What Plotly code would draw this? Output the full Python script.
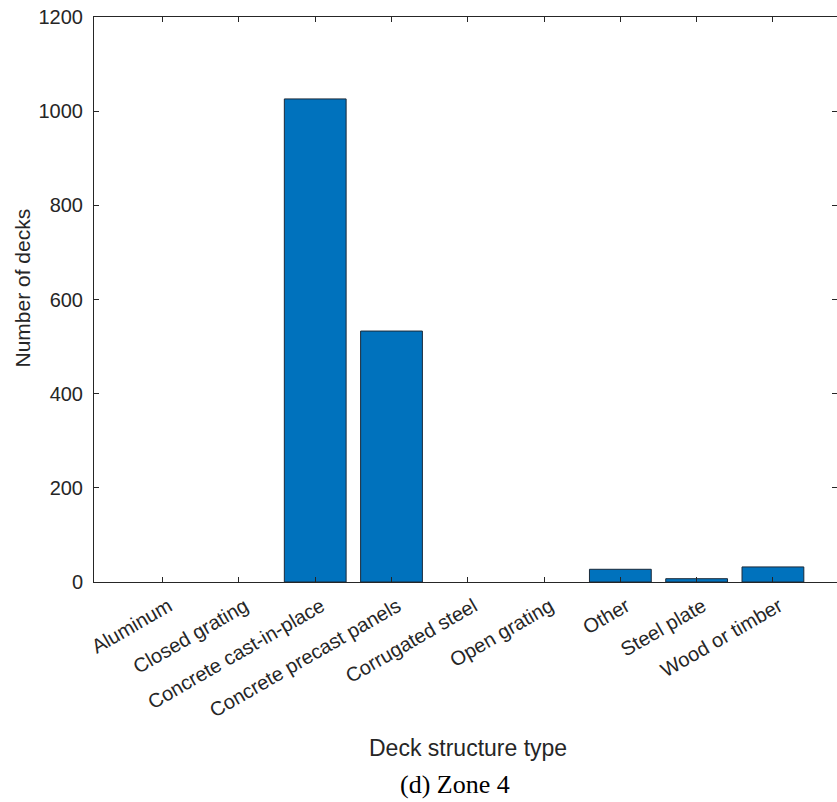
import plotly.graph_objects as go

categories = ["Aluminum", "Closed grating", "Concrete cast-in-place", "Concrete precast panels",
              "Corrugated steel", "Open grating", "Other", "Steel plate", "Wood or timber"]
counts = [0, 0, 1026, 533, 0, 0, 27, 7, 32]
y_ticks = [0, 200, 400, 600, 800, 1000, 1200]

sans = "Liberation Sans, Arial, Helvetica"
fig = go.Figure(go.Bar(
    x=categories, y=counts, width=0.81,
    marker=dict(color="#0072BD",
                line=dict(color="#1a2a3a", width=[1 if v > 0 else 0 for v in counts])),
))

axis_common = dict(showline=True, linecolor="#262626", linewidth=1, mirror="ticks",
                   ticks="inside", ticklen=5, tickcolor="#262626", showgrid=False,
                   zeroline=False, tickfont=dict(family=sans, size=20, color="#262626"))

fig.update_xaxes(**axis_common, range=[-0.9, 8.84], tickangle=-30,
                 ticklabelstandoff=4, ticklabelshift=6)
fig.update_yaxes(**axis_common, range=[0, 1200], tickvals=y_ticks, ticklabelstandoff=6)

fig.add_annotation(text="Deck structure type", xref="paper", yref="paper", x=0.504, y=-0.294,
                   xanchor="center", yanchor="middle", showarrow=False,
                   font=dict(family=sans, size=23, color="#262626"))
fig.add_annotation(text="Number of decks", xref="paper", yref="paper", x=-0.0957, y=0.521,
                   xanchor="center", yanchor="middle", showarrow=False, textangle=-90,
                   font=dict(family=sans, size=21, color="#262626"))
fig.add_annotation(text="(d) Zone 4", xref="paper", yref="paper", x=0.486, y=-0.359,
                   xanchor="center", yanchor="middle", showarrow=False,
                   font=dict(family="Liberation Serif, Times New Roman", size=26, color="black"))

fig.update_layout(width=837, height=802, margin=dict(l=94, r=0, t=17, b=220),
                  plot_bgcolor="white", paper_bgcolor="white", showlegend=False)

fig.write_html("out.html", config={"displayModeBar": False},
               post_script="document.body.style.margin='0';")
